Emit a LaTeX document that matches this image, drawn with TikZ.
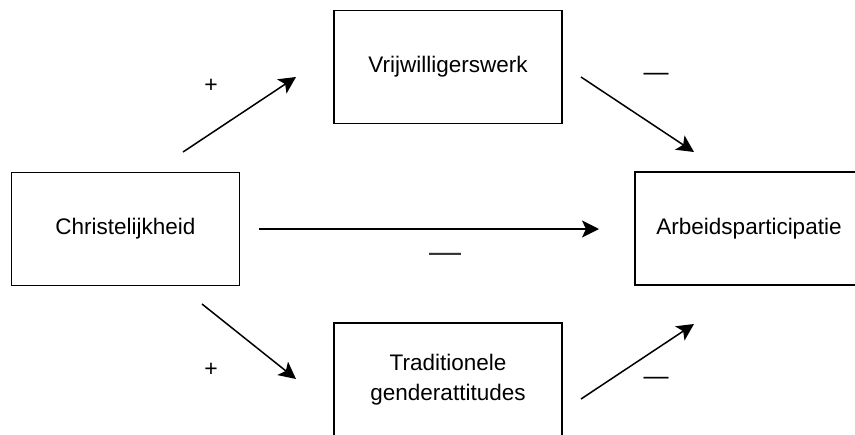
\documentclass[tikz,border=0pt]{standalone}
\usepackage{fontspec}
\setmainfont{Liberation Sans}
\usetikzlibrary{arrows.meta}

\tikzset{
  box/.style={draw, line width=0.75pt, minimum width=114pt, minimum height=56.5pt,
    align=center, inner sep=0pt, font=\fontsize{11.25}{15}\selectfont},
  arr/.style={line width=0.75pt, -{Stealth[length=8.5pt,width=8.5pt,inset=2pt]}},
  sign/.style={inner sep=0pt, font=\fontsize{11.5}{12}\selectfont}
}

\begin{document}
\begin{tikzpicture}[x=0.5pt,y=-0.5pt]
                \useasboundingbox (0,0) rectangle (855,434);
                \clip (0,0) rectangle (855,434);
                % the four variables
                \node[box] (christ) at (125.5,229) {Christelijkheid};
                \node[box] (vrij) at (448,67) {Vrijwilligerswerk};
                \node[box] (trad) at (448,379.5) {Traditionele\\genderattitudes};
                \node[box] (arbeid) at (749,228.5) {Arbeidsparticipatie};
                % ends of the paths
                \coordinate (cv0) at (183,152); \coordinate (cv1) at (296,77);
                \coordinate (va0) at (581,77);  \coordinate (va1) at (694,152);
                \coordinate (ct0) at (202,304); \coordinate (ct1) at (296,379);
                \coordinate (ta0) at (581,399); \coordinate (ta1) at (694,324);
                \coordinate (ca0) at (259,229); \coordinate (ca1) at (599,229);
                \draw[arr] (cv0) -- (cv1);
                \draw[arr] (va0) -- (va1);
                \draw[arr] (ct0) -- (ct1);
                \draw[arr] (ta0) -- (ta1);
                \draw[arr] (ca0) -- (ca1);
                % signs
                \node[sign] (scv) at (211,86) {+};
                \node[sign] (sct) at (211,370) {+};
                \node[sign, font=\fontsize{12.5}{13}\selectfont] (sva) at (656,77) {—};
                \node[sign, font=\fontsize{12.5}{13}\selectfont] (sta) at (656,381) {—};
                \node[sign, font=\fontsize{16}{16}\selectfont, text=black!80] (sca) at (445,258) {—};
\end{tikzpicture}
\end{document}
